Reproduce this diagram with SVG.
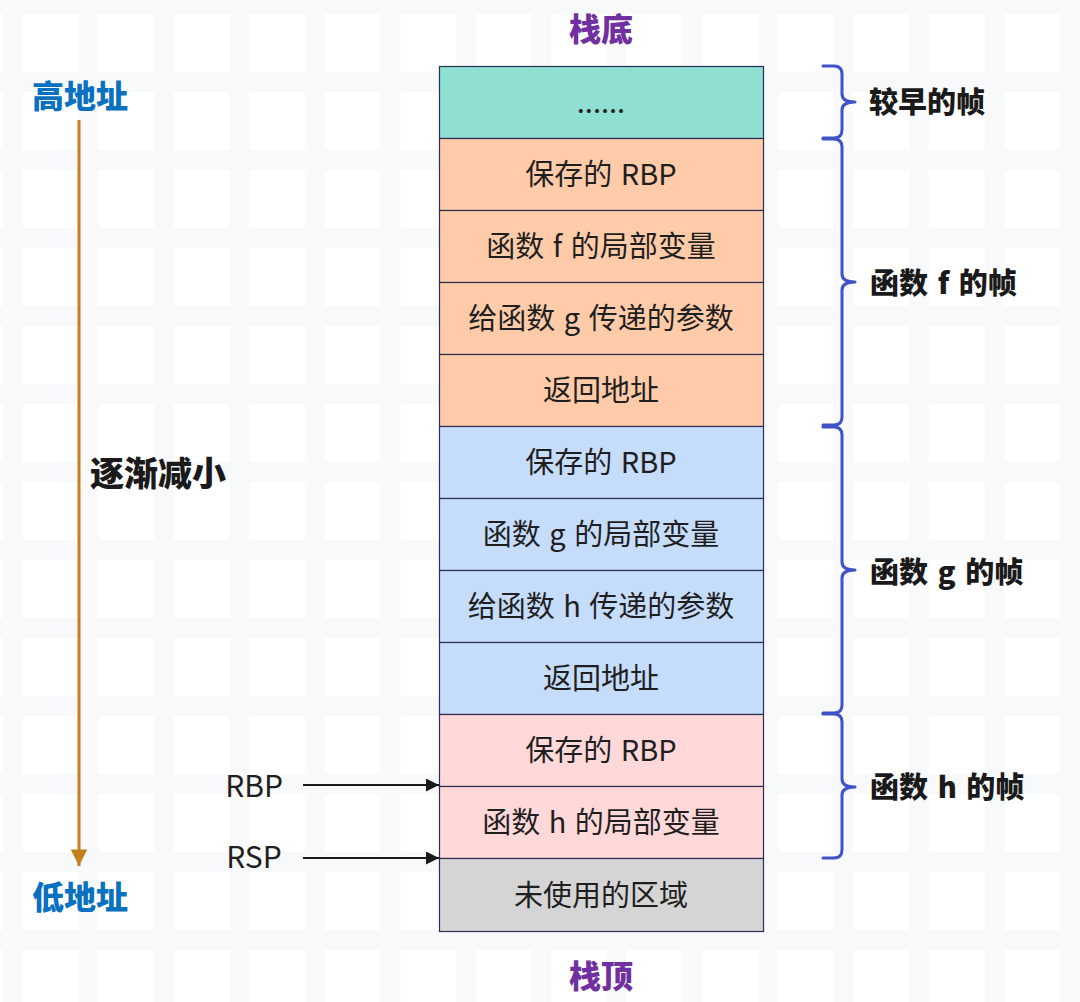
<svg xmlns="http://www.w3.org/2000/svg" width="1080" height="1002" viewBox="0 0 1080 1002">
<defs>
<pattern id="grid" x="3" y="-6" width="75.5" height="78" patternUnits="userSpaceOnUse">
<rect x="0" y="0" width="20" height="78" fill="#f8f9fa"/>
<rect x="0" y="0" width="75.5" height="20" fill="#f8f9fa"/>
</pattern>
<marker id="arrBlack" viewBox="0 0 10 10" refX="10" refY="5" markerWidth="7.5" markerHeight="6.5" markerUnits="strokeWidth" orient="auto">
<path d="M0,0 L10,5 L0,10 z" fill="#1a1a1a"/>
</marker>
<marker id="arrOrange" viewBox="0 0 10 10" refX="10" refY="5" markerWidth="6" markerHeight="5.5" markerUnits="strokeWidth" orient="auto">
<path d="M0,0 L10,5 L0,10 z" fill="#c47f1f"/>
</marker>
</defs>
<style>
.cell{stroke:#2d2d55;stroke-width:1.2}
.teal{fill:#8fe0d2}
.orange{fill:#ffcba8}
.blue{fill:#c6dcfb}
.pink{fill:#ffd9d9}
.gray{fill:#d5d5d5}
.ct{font-family:"Noto Sans CJK SC","Noto Sans",sans-serif;font-size:29px;fill:#1f1f1f;text-anchor:middle;word-spacing:2px}
.lbl{font-family:"Noto Sans CJK SC","Noto Sans",sans-serif;font-size:30px;fill:#1f1f1f;text-anchor:middle}
.frame{font-family:"Noto Sans CJK SC","Noto Sans",sans-serif;font-size:29px;font-weight:900;fill:#1a1a1a;word-spacing:3px}
.big{font-size:34px;text-anchor:middle}
.title{font-family:"Noto Sans CJK SC",sans-serif;font-size:32px;font-weight:900;fill:#7030a0;text-anchor:middle}
.addr{font-family:"Noto Sans CJK SC",sans-serif;font-size:32px;font-weight:900;fill:#0a70c0;text-anchor:middle}
.brace{fill:none;stroke:#3f52c8;stroke-width:3;stroke-linecap:round;stroke-linejoin:round}
.ptr{stroke:#1a1a1a;stroke-width:2;fill:none}
</style>
<rect width="1080" height="1002" fill="#ffffff"/>
<rect width="1080" height="1002" fill="url(#grid)"/>

<text class="title" x="601" y="41">栈底</text>
<text class="title" x="601" y="988">栈顶</text>

<g id="address-axis">
<text class="addr" x="80" y="108">高地址</text>
<text class="addr" x="80" y="909">低地址</text>
<text class="frame big" x="158" y="486">逐渐减小</text>
</g>

<g id="connectors">
<line x1="79" y1="120" x2="79" y2="866" stroke="#c47f1f" stroke-width="3" marker-end="url(#arrOrange)"/>
<line class="ptr" x1="303" y1="785" x2="439" y2="785" marker-end="url(#arrBlack)"/>
<line class="ptr" x1="303" y1="858" x2="439" y2="858" marker-end="url(#arrBlack)"/>
</g>

<g id="pointer-labels">
<text class="lbl" x="254" y="797">RBP</text>
<text class="lbl" x="254" y="868">RSP</text>
</g>

<g id="stack">
<g id="cell-earlier"><rect class="cell teal" x="439.5" y="66.5" width="324" height="72"/><text class="ct" x="601" y="113">......</text></g>
<g id="cell-f-rbp"><rect class="cell orange" x="439.5" y="138.5" width="324" height="72"/><text class="ct" x="601" y="185">保存的 RBP</text></g>
<g id="cell-f-locals"><rect class="cell orange" x="439.5" y="210.5" width="324" height="72"/><text class="ct" x="601" y="257">函数 f 的局部变量</text></g>
<g id="cell-f-args"><rect class="cell orange" x="439.5" y="282.5" width="324" height="72"/><text class="ct" x="601" y="329">给函数 g 传递的参数</text></g>
<g id="cell-f-ret"><rect class="cell orange" x="439.5" y="354.5" width="324" height="72"/><text class="ct" x="601" y="401">返回地址</text></g>
<g id="cell-g-rbp"><rect class="cell blue" x="439.5" y="426.5" width="324" height="72"/><text class="ct" x="601" y="473">保存的 RBP</text></g>
<g id="cell-g-locals"><rect class="cell blue" x="439.5" y="498.5" width="324" height="72"/><text class="ct" x="601" y="545">函数 g 的局部变量</text></g>
<g id="cell-g-args"><rect class="cell blue" x="439.5" y="570.5" width="324" height="72"/><text class="ct" x="601" y="617">给函数 h 传递的参数</text></g>
<g id="cell-g-ret"><rect class="cell blue" x="439.5" y="642.5" width="324" height="72"/><text class="ct" x="601" y="689">返回地址</text></g>
<g id="cell-h-rbp"><rect class="cell pink" x="439.5" y="714.5" width="324" height="72"/><text class="ct" x="601" y="761">保存的 RBP</text></g>
<g id="cell-h-locals"><rect class="cell pink" x="439.5" y="786.5" width="324" height="72"/><text class="ct" x="601" y="833">函数 h 的局部变量</text></g>
<g id="cell-unused"><rect class="cell gray" x="439.5" y="858.5" width="324" height="73"/><text class="ct" x="601" y="906">未使用的区域</text></g>
</g>

<g id="braces">
<path class="brace" d="M823,66 L834,66 Q842,66 842,74 L842,94 Q842,102 855,102 Q842,102 842,110 L842,130 Q842,138 834,138 L823,138"/>
<path class="brace" d="M823,139 L834,139 Q842,139 842,147 L842,274 Q842,282 855,282 Q842,282 842,290 L842,417 Q842,425 834,425 L823,425"/>
<path class="brace" d="M823,427 L834,427 Q842,427 842,435 L842,562 Q842,570 855,570 Q842,570 842,578 L842,705 Q842,713 834,713 L823,713"/>
<path class="brace" d="M823,714 L834,714 Q842,714 842,722 L842,779 Q842,787 855,787 Q842,787 842,795 L842,850 Q842,858 834,858 L823,858"/>
</g>

<g id="frame-labels">
<text class="frame" x="869" y="113">较早的帧</text>
<text class="frame" x="870" y="294">函数 f 的帧</text>
<text class="frame" x="870" y="583">函数 g 的帧</text>
<text class="frame" x="870" y="798">函数 h 的帧</text>
</g>
</svg>
